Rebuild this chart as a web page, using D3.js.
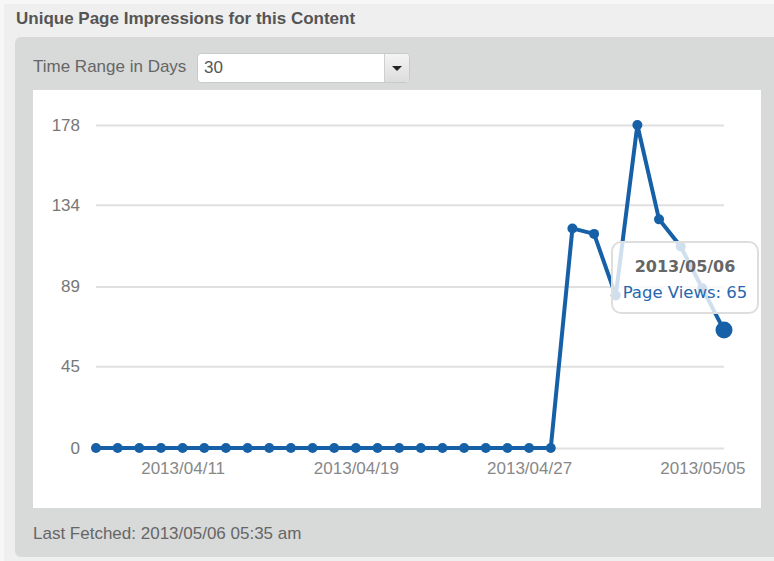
<html>
<head>
<title>Unique Page Impressions</title>
<script src="https://d3js.org/d3.v7.min.js"></script>
<style>
body {
  margin: 0;
  width: 774px;
  height: 561px;
  overflow: hidden;
  background: #f7f7f7;
  font-family: "Liberation Sans", Arial, sans-serif;
  position: relative;
}
#outer {
  position: absolute; left: 4px; top: 4px; width: 780px; height: 570px;
  background: #efefef;
}
#title {
  position: absolute; left: 16px; top: 9px;
  font-size: 17px; font-weight: bold; color: #555;
}
#panel {
  position: absolute; left: 15px; top: 37px; width: 780px; height: 520px;
  background: #d8d9d9; border-radius: 6px;
}
#rangeLabel {
  position: absolute; left: 33px; top: 57px;
  font-size: 17px; color: #666;
}
#select {
  position: absolute; left: 197px; top: 53px; width: 211px; height: 28px;
  background: #fff; border: 1px solid #c9c9c9; border-radius: 4px;
  font-size: 17px; color: #555;
}
#select .val { position: absolute; left: 6px; top: 4px; }
#select .btn {
  position: absolute; right: 0; top: 0; width: 24px; height: 28px;
  border-left: 1px solid #cfcfcf; border-radius: 0 4px 4px 0;
  background: linear-gradient(#f4f4f4, #dcdcdc);
}
#select .btn:after {
  content: ""; position: absolute; left: 7px; top: 12px;
  border-left: 5px solid transparent; border-right: 5px solid transparent;
  border-top: 5px solid #222;
}
#chart {
  position: absolute; left: 33px; top: 90px; background: #fff;
}
#fetched {
  position: absolute; left: 33px; top: 524px;
  font-size: 17px; color: #666;
}
.y.axis .domain, .x.axis .domain { stroke: none; }
.y.axis line { stroke: #e0e0e0; stroke-width: 2; }
.axis text { font-family: "Liberation Sans", Arial, sans-serif; font-size: 17px; }
</style>
</head>

<body>
<div id="outer"></div>
<div id="title">Unique Page Impressions for this Content</div>
<div id="panel"></div>
<div id="rangeLabel">Time Range in Days</div>
<div id="select"><span class="val">30</span><div class="btn"></div></div>
<svg id="chart" width="728" height="418"></svg>
<div id="fetched">Last Fetched: 2013/05/06 05:35 am</div>

<script>

// data
const startDate = "2013/04/07";
const endDate = "2013/05/06";
const pageViews = [0,0,0,0,0,0,0,0,0,0,0,0,0,0,0,0,0,0,0,0,0,0,
                   121,118,84,178,126,111,88,65];
const yTicks = [0, 45, 89, 134, 178];
const xTickLabels = ["2013/04/11","2013/04/19","2013/04/27","2013/05/05"];
const hoverIndex = 29;

const parse = d3.timeParse("%Y/%m/%d");
const fmt = d3.timeFormat("%Y/%m/%d");

const days = d3.timeDay.range(parse(startDate), d3.timeDay.offset(parse(endDate), 1));
const data = days.map((d, i) => ({date: d, views: pageViews[i]}));

const svg = d3.select("svg#chart");
const blue = "#1660a8";

//scales
const x = d3.scaleTime().domain([parse(startDate), parse(endDate)]).range([63, 691]);
const y = d3.scaleLinear().domain([0, 178]).range([358, 35]);

//white plot background
svg.append("rect").attr("width", 728).attr("height", 418).attr("fill", "#fff");

//axis and gridlines
let leftAxis = d3.axisLeft(y)
                 .tickValues(yTicks)
                 .tickSize(-628)
                 .tickPadding(16);
svg.append("g")
   .attr("class", "y axis")
   .attr("transform", "translate(63,0)")
   .call(leftAxis)
   .selectAll("text").attr("fill", "#777");

let bottomAxis = d3.axisBottom(x)
                   .tickValues(xTickLabels.map(parse))
                   .tickSize(0)
                   .tickPadding(14)
                   .tickFormat(fmt);
svg.append("g")
   .attr("class", "x axis")
   .attr("transform", "translate(0,358)")
   .call(bottomAxis)
   .selectAll("text").attr("fill", "#888");

//line and points
const line = d3.line().x(d => x(d.date)).y(d => y(d.views));
svg.append("path")
   .datum(data)
   .attr("fill", "none")
   .attr("stroke", blue)
   .attr("stroke-width", 4)
   .attr("stroke-linejoin", "round")
   .attr("d", line);

svg.selectAll("circle.pt")
   .data(data)
   .enter().append("circle").attr("class", "pt")
   .attr("cx", d => x(d.date))
   .attr("cy", d => y(d.views))
   .attr("r", 5)
   .attr("fill", blue);

//tooltip
const hp = data[hoverIndex];
const hx = x(hp.date), hy = y(hp.views);
const tip = svg.append("g").attr("class", "tooltip");
tip.append("rect")
   .attr("x", hx - 112).attr("y", hy - 88)
   .attr("width", 146).attr("height", 71)
   .attr("rx", 9)
   .attr("fill", "white").attr("fill-opacity", 0.8)
   .attr("stroke", "#dedede").attr("stroke-width", 2);
tip.append("text")
   .attr("x", hx - 39).attr("y", hy - 58)
   .attr("text-anchor", "middle")
   .style("font-family", "DejaVu Sans")
   .style("font-size", "16px").style("font-weight", "bold")
   .attr("fill", "#666")
   .text(fmt(hp.date));
tip.append("text")
   .attr("x", hx - 39).attr("y", hy - 32)
   .attr("text-anchor", "middle")
   .style("font-family", "DejaVu Sans")
   .style("font-size", "16.5px")
   .attr("fill", "#2767ad")
   .text("Page Views: " + hp.views);

svg.append("circle")
   .attr("cx", hx).attr("cy", hy)
   .attr("r", 8.5)
   .attr("fill", blue);

</script>
</body>
</html>
